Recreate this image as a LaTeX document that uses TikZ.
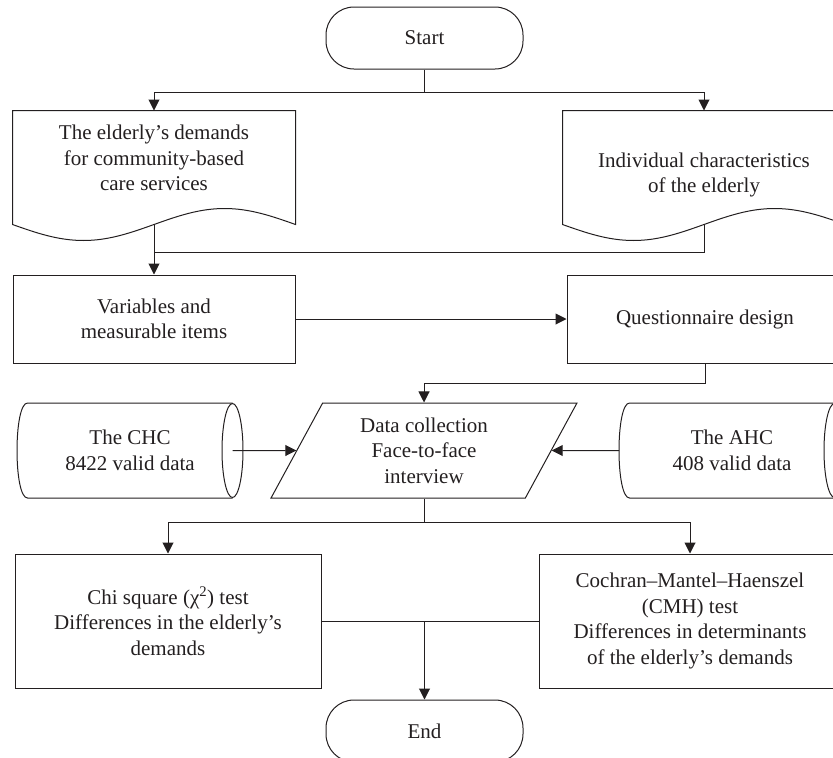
\documentclass[tikz,border=0pt]{standalone}
\usepackage{fontspec}
\setmainfont{Liberation Serif}
\usetikzlibrary{arrows.meta,shapes.geometric,calc}
\definecolor{ink}{RGB}{35,31,32}
\begin{document}
\begin{tikzpicture}[x=1pt,y=-1pt,
  line width=1pt, draw=ink,
  every node/.style={font=\fontsize{21}{25.5}\selectfont, text=ink, align=center},
  arr/.style={-{Triangle[length=11pt,width=11pt]}},
  term/.style={draw, rounded corners=28pt, minimum width=197pt, minimum height=62pt, inner sep=0pt},
  docarea/.style={minimum width=282pt, minimum height=113pt, inner sep=0pt},
  box/.style={draw, minimum height=88pt, inner sep=0pt},
  tallbox/.style={draw, minimum height=134pt, inner sep=0pt},
  cylarea/.style={minimum width=204pt, minimum height=94pt, inner sep=0pt},
  para/.style={draw, trapezium, trapezium left angle=63.7, trapezium right angle=116.3,
    trapezium stretches=true, minimum width=306pt, minimum height=95pt, inner sep=0pt}]
\useasboundingbox (0,0) rectangle (833,758);
\clip (0,0) rectangle (833,758);

% nodes
\node[term] (start) at (424.5,38) {Start};
\node[docarea] (doc1) at (154,167.5) {\begin{tabular}{@{}c@{}}The elderly’s demands\\for community-based\\care services\\[15pt]\end{tabular}};
\node[docarea] (doc2) at (704,167.5) {\begin{tabular}{@{}c@{}}\rule{0pt}{33pt}Individual characteristics\\of the elderly\end{tabular}};
\foreach \d in {doc1,doc2}
  \draw (\d.south west) sin ($(\d.south)+(-70.5,16)$) cos (\d.south)
        sin ($(\d.south)+(70.5,-16)$) cos (\d.south east)
        -- (\d.north east) -- (\d.north west) -- cycle;

\node[box, minimum width=282pt] (vars) at (154,319) {Variables and\\measurable items};
\node[box, minimum width=276pt] (quest) at (705,319) {Questionnaire design};

\node[para] (dc) at (424,450.5) {Data collection\\Face-to-face\\interview};

\node[cylarea] (chc) at (130,450.5) {The CHC\\8422 valid data};
\node[cylarea] (ahc) at (732,450.5) {The AHC\\408 valid data};
\foreach \c in {chc,ahc}{
  \draw (\c.north east) -- (\c.north west) .. controls +(-14,0) and +(-14,0) .. (\c.south west) -- (\c.south east);
  \draw (\c.east) ellipse [x radius=10.5pt, y radius=47pt];
}

\node[tallbox, minimum width=306pt] (chi) at (168,621) {Chi square (χ\textsuperscript{2}) test\\Differences in the elderly’s\\demands};
\node[tallbox, minimum width=302pt] (cmh) at (690,621) {Cochran–Mantel–Haenszel\\(CMH) test\\Differences in determinants\\of the elderly’s demands};
\node[term] (end) at (424.5,731) {End};

% connectors
\draw (start.south) -- ++(0,23) coordinate (s1);
\draw[arr] (s1) -| (doc1.north);
\draw[arr] (s1) -| (doc2.north);
\coordinate (j1) at (doc1.south |- 0,252);
\draw[arr] (doc1.south) -- (vars.north);
\draw (doc2.south) |- (j1);
\draw[arr] (vars.east) -- (quest.west);
\draw[arr] (quest.south) -- ++(0,20) -| (dc.north);
\draw[arr] (chc.east) -- (dc.west);
\draw[arr] ($(ahc.west)+(-10.5,0)$) -- (dc.east);
\draw (dc.south) -- ++(0,23.5) coordinate (j2);
\draw[arr] (j2) -| (chi.north);
\draw[arr] (j2) -| (cmh.north);
\draw (chi.east) -- (cmh.west);
\draw[arr] (end.north |- chi.east) -- (end.north);
\end{tikzpicture}
\end{document}
